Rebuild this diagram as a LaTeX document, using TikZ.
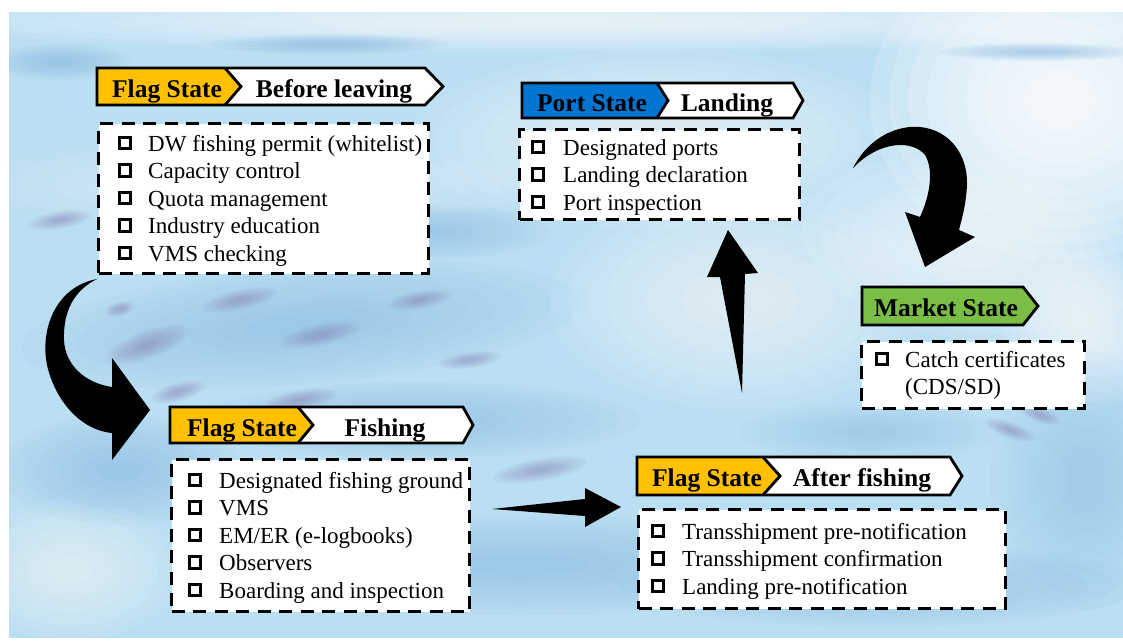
\documentclass[tikz,border=0pt]{standalone}
\usepackage{fontspec}
\setmainfont{Liberation Serif}
\definecolor{flagc}{RGB}{255,192,0}
\definecolor{portc}{RGB}{0,118,210}
\definecolor{mktc}{RGB}{122,190,70}
\definecolor{sea}{RGB}{186,222,242}
\definecolor{seadark}{RGB}{120,175,222}
\definecolor{fish}{RGB}{130,115,170}
\tikzset{
 hdrtxt/.style={anchor=base, inner sep=0pt, font=\fontsize{25.5}{30}\selectfont\bfseries},
 itemtxt/.style={anchor=base west, inner sep=0pt, font=\fontsize{23}{27}\selectfont},
 chk/.style={draw, line width=2.9pt, minimum size=11.5pt, inner sep=0pt, fill=white},
 listbox/.style={draw, fill=white, dash pattern=on 13pt off 8.5pt, line width=3pt, inner sep=0pt, anchor=north west},
 hdrline/.style={line width=2.8pt, line join=miter},
 bigarrow/.style={fill=black, draw=none},
}
% soft blob: colour, x, y, rx, ry, angle, opacity per layer
\newcommand\softblob[7]{%
  \foreach \k in {0,...,8}{%
    \fill[#1, opacity=#7, rotate around={#6:(#2,#3)}] (#2,#3) ellipse ({#4*(1-0.1*\k)} and {#5*(1-0.1*\k)});
  }}
\begin{document}
\begin{tikzpicture}[x=1pt,y=-1pt]
\useasboundingbox (0,0) rectangle (1123,640);
% ---------- background ----------
\fill[white] (0,0) rectangle (1123,640);
\fill[sea] (9,12) rectangle (1123,638);
\begin{scope}
\clip (9,12) rectangle (1123,638);
% lighter areas
\softblob{white}{560}{22}{640}{30}{0}{0.11}
\softblob{white}{1060}{100}{190}{160}{0}{0.17}
\softblob{white}{970}{250}{170}{90}{-10}{0.1}
\softblob{white}{740}{300}{190}{110}{0}{0.08}
\softblob{white}{660}{140}{250}{90}{0}{0.08}
\softblob{white}{250}{185}{280}{45}{0}{0.06}
\softblob{white}{70}{570}{110}{70}{0}{0.07}
\softblob{white}{1085}{330}{80}{80}{0}{0.1}
% darker strokes
\softblob{seadark}{60}{62}{70}{18}{0}{0.06}
\softblob{seadark}{330}{44}{120}{10}{0}{0.07}
\softblob{seadark}{1040}{52}{100}{9}{0}{0.07}
\softblob{seadark}{300}{325}{280}{60}{5}{0.05}
\softblob{seadark}{420}{420}{220}{38}{0}{0.05}
\softblob{seadark}{120}{470}{120}{55}{0}{0.055}
\softblob{seadark}{520}{565}{350}{50}{0}{0.05}
\softblob{seadark}{880}{585}{260}{42}{0}{0.05}
\softblob{seadark}{1085}{480}{95}{130}{0}{0.04}
\softblob{seadark}{420}{232}{130}{28}{0}{0.05}
\softblob{seadark}{870}{432}{130}{28}{0}{0.04}
% fish shapes
\softblob{fish}{120}{309}{15}{7}{15}{0.06}
\softblob{fish}{147}{345}{45}{14}{20}{0.06}
\softblob{fish}{178}{392}{28}{9}{15}{0.06}
\softblob{fish}{240}{300}{38}{10}{12}{0.055}
\softblob{fish}{320}{335}{42}{11}{12}{0.055}
\softblob{fish}{420}{300}{32}{9}{10}{0.055}
\softblob{fish}{300}{400}{38}{10}{10}{0.055}
\softblob{fish}{470}{360}{32}{8}{8}{0.055}
\softblob{fish}{60}{220}{32}{9}{10}{0.055}
\softblob{fish}{540}{470}{48}{11}{10}{0.055}
\softblob{fish}{1010}{430}{27}{8}{-20}{0.055}
\softblob{fish}{1040}{415}{22}{7}{-20}{0.055}
\end{scope}

% ---------- header 1 : Flag State / Before leaving ----------
\fill[flagc] (97,68) -- (225,68) -- (241,86.5) -- (225,105) -- (97,105) -- cycle;
\fill[white] (225,68) -- (425,68) -- (443,86.5) -- (425,105) -- (225,105) -- (241,86.5) -- cycle;
\draw[hdrline] (97,68) -- (425,68) -- (443,86.5) -- (425,105) -- (97,105) -- cycle;
\draw[hdrline] (225,68) -- (241,86.5) -- (225,105);
\node[hdrtxt] (h1a) at (167,97) {Flag State};
\node[hdrtxt] (h1b) at (334,97) {Before leaving};
\node[listbox, minimum width=330pt, minimum height=150pt] (box1) at (97,122) {};
\foreach \t [count=\i from 0] in {DW fishing permit (whitelist),Capacity control,Quota management,Industry education,VMS checking}{
  \node[chk] (b1c\i) at (125,{143+27.5*\i}) {};
  \node[itemtxt] (b1t\i) at (148,{151+27.5*\i}) {\t};
}

% ---------- header 2 : Port State / Landing ----------
\fill[portc] (522,83) -- (657,83) -- (668,100.5) -- (657,118) -- (522,118) -- cycle;
\fill[white] (657,83) -- (793,83) -- (803,100.5) -- (793,118) -- (657,118) -- (668,100.5) -- cycle;
\draw[hdrline] (522,83) -- (793,83) -- (803,100.5) -- (793,118) -- (522,118) -- cycle;
\draw[hdrline] (657,83) -- (668,100.5) -- (657,118);
\node[hdrtxt] (h2a) at (592,111) {Port State};
\node[hdrtxt] (h2b) at (727,111) {Landing};
\node[listbox, minimum width=280pt, minimum height=90pt] (box2) at (518,128) {};
\foreach \t [count=\i from 0] in {Designated ports,Landing declaration,Port inspection}{
  \node[chk] (b2c\i) at (538,{147+27.5*\i}) {};
  \node[itemtxt] (b2t\i) at (563,{155+27.5*\i}) {\t};
}

% ---------- header 3 : Market State ----------
\fill[mktc] (862,287) -- (1023,287) -- (1038,306) -- (1023,325) -- (862,325) -- cycle;
\draw[hdrline] (862,287) -- (1023,287) -- (1038,306) -- (1023,325) -- (862,325) -- cycle;
\node[hdrtxt] (h3a) at (946,316) {Market State};
\node[listbox, minimum width=223pt, minimum height=67pt] (box3) at (860,340) {};
\node[chk] (b3c0) at (882,359) {};
\node[itemtxt] (b3t0) at (905,367) {Catch certificates};
\node[itemtxt] (b3t1) at (905,394) {(CDS/SD)};

% ---------- header 4 : Flag State / Fishing ----------
\fill[flagc] (170,407) -- (298,407) -- (313,425) -- (298,443) -- (170,443) -- cycle;
\fill[white] (298,407) -- (463,407) -- (473,425) -- (463,443) -- (298,443) -- (313,425) -- cycle;
\draw[hdrline] (170,407) -- (463,407) -- (473,425) -- (463,443) -- (170,443) -- cycle;
\draw[hdrline] (298,407) -- (313,425) -- (298,443);
\node[hdrtxt] (h4a) at (242,436) {Flag State};
\node[hdrtxt] (h4b) at (385,436) {Fishing};
\node[listbox, minimum width=298pt, minimum height=152pt] (box4) at (170,458) {};
\foreach \t [count=\i from 0] in {Designated fishing ground,VMS,EM/ER (e-logbooks),Observers,Boarding and inspection}{
  \node[chk] (b4c\i) at (195,{480+27.5*\i}) {};
  \node[itemtxt] (b4t\i) at (219,{488+27.5*\i}) {\t};
}

% ---------- header 5 : Flag State / After fishing ----------
\fill[flagc] (637,457) -- (763,457) -- (780,476) -- (763,495) -- (637,495) -- cycle;
\fill[white] (763,457) -- (950,457) -- (962,476) -- (950,495) -- (763,495) -- (780,476) -- cycle;
\draw[hdrline] (637,457) -- (950,457) -- (962,476) -- (950,495) -- (637,495) -- cycle;
\draw[hdrline] (763,457) -- (780,476) -- (763,495);
\node[hdrtxt] (h5a) at (707,486) {Flag State};
\node[hdrtxt] (h5b) at (862,486) {After fishing};
\node[listbox, minimum width=367pt, minimum height=99pt] (box5) at (637,508) {};
\foreach \t [count=\i from 0] in {Transshipment pre-notification,Transshipment confirmation,Landing pre-notification}{
  \node[chk] (b5c\i) at (658,{531+27.5*\i}) {};
  \node[itemtxt] (b5t\i) at (682,{539+27.5*\i}) {\t};
}

% ---------- big arrows ----------
% curved arrow: before leaving -> fishing
\coordinate (a1tail) at (97,279);
\coordinate (a1tip) at (150,410);
\fill[bigarrow] (a1tail) .. controls (55,287) and (40,330) .. (47,365)
  .. controls (55,400) and (80,430) .. (112,433) -- (112,460) -- (a1tip) -- (112,358) -- (112,387)
  .. controls (85,383) and (65,365) .. (64,340) .. controls (63,310) and (75,290) .. (a1tail) -- cycle;
% straight arrow: fishing -> after fishing
\coordinate (a2tail) at (492,509);
\coordinate (a2tip) at (621,507);
\fill[bigarrow] (a2tail) -- (585,499) -- (585,488) -- (a2tip) -- (585,527) -- (585,516) -- cycle;
% up arrow: after fishing -> landing
\coordinate (a3tail) at (742,393);
\coordinate (a3tip) at (728,230);
\fill[bigarrow] (a3tail) -- (720,277) -- (707,277) -- (a3tip) -- (758,273) -- (745,274) -- cycle;
% curl arrow: landing -> market
\coordinate (a4tail) at (853,168);
\coordinate (a4tip) at (925,267);
\fill[bigarrow] (a4tail) .. controls (870,135) and (900,125) .. (920,127)
  .. controls (950,130) and (968,155) .. (967,185) .. controls (966,205) and (962,218) .. (959,230)
  -- (975,237) -- (a4tip) -- (905,212) -- (920,217)
  .. controls (930,195) and (934,170) .. (925,155) .. controls (913,140) and (880,140) .. (a4tail) -- cycle;
\end{tikzpicture}
\end{document}
